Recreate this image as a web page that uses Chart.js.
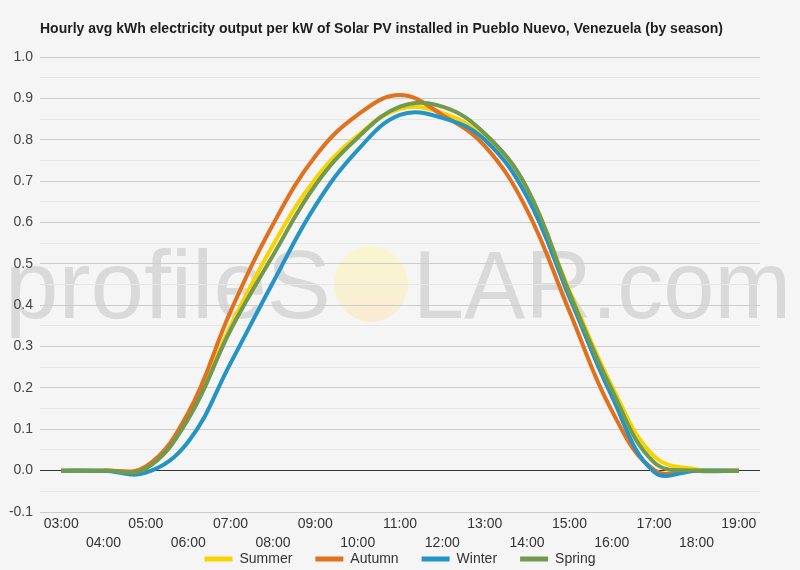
<!DOCTYPE html>
<html>
<head>
<meta charset="utf-8">
<script src="https://cdn.jsdelivr.net/npm/chart.js@4/dist/chart.umd.min.js"></script>
<style>
	html, body {margin: 0; padding: 0; background: #f5f5f5;}
	#wrap {width: 800px; height: 570px;}
</style>
</head>
<body>
<div id="wrap"><canvas id="myChart" width="800" height="570"></canvas></div>
<script>
'use strict';

const hours = ['03:00', '04:00', '05:00', '06:00', '07:00', '08:00', '09:00', '10:00', '11:00',
	'12:00', '13:00', '14:00', '15:00', '16:00', '17:00', '18:00', '19:00'];
const summer = [0, 0, 0.005, 0.13, 0.35, 0.545, 0.705, 0.81, 0.875, 0.865, 0.805, 0.675, 0.435, 0.205, 0.035, 0.003, 0];
const autumn = [0, 0, 0.01, 0.14, 0.385, 0.595, 0.76, 0.86, 0.908, 0.86, 0.785, 0.63, 0.385, 0.145, 0.002, 0, 0];
const winter = [0, 0, -0.005, 0.07, 0.26, 0.455, 0.64, 0.775, 0.86, 0.853, 0.8, 0.662, 0.42, 0.18, -0.003, 0, 0];
const spring = [0, 0, 0.005, 0.125, 0.34, 0.52, 0.69, 0.805, 0.88, 0.88, 0.815, 0.683, 0.43, 0.196, 0.02, 0, 0];
const seasons = ['Summer', 'Autumn', 'Winter', 'Spring'];
const colors = ['#f9d300', '#e2711d', '#2493c6', '#6f9a4f'];
const title = 'Hourly avg kWh electricity output per kW of Solar PV installed in Pueblo Nuevo, Venezuela (by season)';

const FONT = "'Liberation Sans', Arial, sans-serif";

// background, watermark and title drawn straight on the canvas
const backdrop = {
	id: 'backdrop',
	beforeDraw(chart) {
		const {ctx, width, height} = chart;
		ctx.save();
		ctx.fillStyle = '#f5f5f5';
		ctx.fillRect(0, 0, width, height);

		ctx.fillStyle = '#d9d9d9';
		ctx.font = '97px ' + FONT;
		ctx.textBaseline = 'alphabetic';
		ctx.fillText('profileS', 5, 318, 326);
		ctx.fillText('LAR.com', 413, 318, 378);

		const grad = ctx.createLinearGradient(0, 246, 0, 322);
		grad.addColorStop(0, '#f9f7cf');
		grad.addColorStop(1, '#faebd3');
		ctx.fillStyle = grad;
		ctx.beginPath();
		ctx.ellipse(371, 284, 37, 38, 0, 0, Math.PI * 2);
		ctx.fill();

		ctx.fillStyle = '#1e1e1e';
		ctx.font = 'bold 14px ' + FONT;
		ctx.fillText(title, 40, 33);
		ctx.restore();
	},
};

// legend box gets a fixed height and the full canvas width; the x axis box is
// stretched afterwards so its second label row is not clipped
const fitBoxes = {
	id: 'fitBoxes',
	beforeInit(chart) {
		const fit = chart.legend.fit;
		chart.legend.fit = function () {
			fit.bind(chart.legend)();
			this.height = 41;
		};
	},
	afterLayout(chart) {
		chart.scales.x.bottom = chart.height;
		chart.legend.left = 0;
		chart.legend.right = chart.width;
		chart.legend.width = chart.width;
	},
};

const datasets = [summer, autumn, winter, spring].map((data, i) => ({
	label: seasons[i],
	data: data,
	borderColor: colors[i],
	backgroundColor: colors[i],
	borderWidth: 4,
	pointRadius: 0,
	pointHoverRadius: 0,
	tension: 0.4,
	fill: false,
	order: seasons.length - i,
}));

const ctx = document.getElementById('myChart').getContext('2d');
const myChart = new Chart(ctx, {
	type: 'line',
	data: {labels: hours, datasets: datasets},
	plugins: [backdrop, fitBoxes],
	options: {
		responsive: false,
		animation: false,
		layout: {padding: {top: 57, left: 0, right: 40, bottom: 0}},
		plugins: {
			legend: {
				position: 'bottom',
				labels: {
					boxWidth: 28,
					boxHeight: 5,
					padding: 23,
					color: '#333',
					font: {family: FONT, size: 14},
					sort: (a, b) => a.datasetIndex - b.datasetIndex,
					generateLabels: chart => Chart.defaults.plugins.legend.labels.generateLabels(chart)
						.map(l => ({...l, lineWidth: 0})),
				},
			},
			title: {display: false},
			tooltip: {enabled: false},
		},
		scales: {
			x: {
				offset: true,
				grid: {display: false, drawTicks: false},
				border: {display: false},
				afterFit: s => { s.height = 17; },
				ticks: {
					autoSkip: false,
					maxRotation: 0,
					padding: 3,
					color: '#333',
					font: {family: FONT, size: 14, lineHeight: 1.35},
					callback: (v, i) => i % 2 === 0 ? hours[i] : ['', hours[i]],
				},
			},
			y: {
				min: -0.1,
				max: 1.0,
				afterFit: s => { s.width = 40; },
				border: {display: false},
				grid: {
					drawTicks: false,
					color: c => {
						const k = Math.round(c.tick.value * 100);
						if (k === 0) return '#333';
						return k % 10 === 0 ? '#cccccc' : '#e6e6e6';
					},
				},
				ticks: {
					stepSize: 0.05,
					padding: 7,
					color: '#444',
					font: {family: FONT, size: 14},
					callback: v => Math.round(v * 100) % 10 === 0 ? (Math.round(v * 10) / 10).toFixed(1) : '',
				},
			},
		},
	},
});
</script>
</body>
</html>
